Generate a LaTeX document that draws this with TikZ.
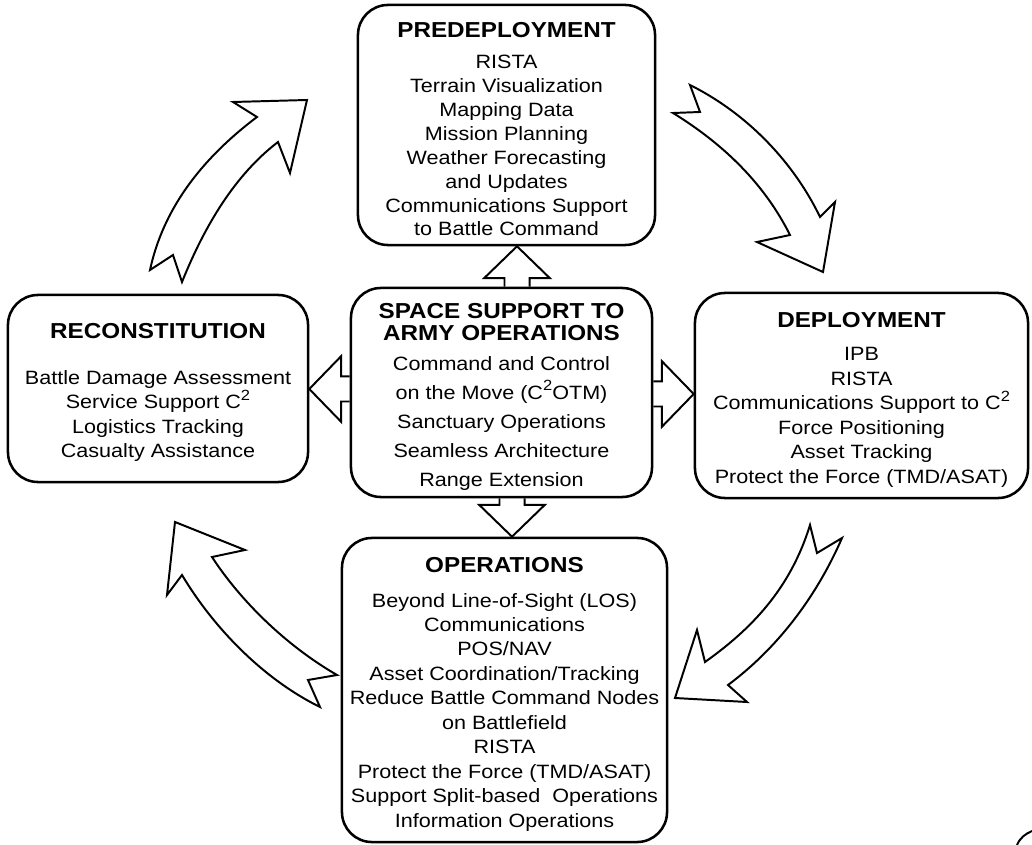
\documentclass[tikz,border=0pt]{standalone}
\usepackage{fontspec}
\setmainfont{Liberation Sans}[FakeStretch=1.12]
\usetikzlibrary{calc}

\newcommand{\boxtitle}[1]{{\rule{0pt}{17pt}\fontsize{15.4}{15.6}\selectfont\bfseries #1}}
\newcommand{\Csq}{C\raisebox{0.85ex}{\fontsize{10.5}{10.5}\selectfont 2}}
% block arrow from tail #1 to tip #2
\newcommand{\fatarrow}[2]{%
  \path (#2) coordinate (tp) ($(#2)!22.7pt!(#1)$) coordinate (bs);
  \draw[fat arrow] ($(#1)!8.9pt!90:(tp)$) -- ($(bs)!8.9pt!90:(tp)$)
    -- ($(bs)!23.4pt!90:(tp)$) -- (tp) -- ($(bs)!23.4pt!-90:(tp)$)
    -- ($(bs)!8.9pt!-90:(tp)$) -- ($(#1)!8.9pt!-90:(tp)$);}

\begin{document}
\begin{tikzpicture}[x=0.025cm, y=-0.025cm,
stage/.style = {draw, line width=1.8pt,
     rounded corners=0.75cm, inner sep=0pt,
     align=center, font=\fontsize{13.7}{17.4}\selectfont},
fat arrow/.style = {line width=1.4pt, line join=miter},
curl/.style = {draw, line width=1.4pt, line join=miter}]

\useasboundingbox (0,0) rectangle (1032,845);

\node[stage, minimum width=7.425cm, minimum height=6cm,
      font=\fontsize{13.7}{17}\selectfont] (pre) at (506.5,125)
  {\boxtitle{PREDEPLOYMENT}\\[5pt]
   RISTA\\ Terrain Visualization\\ Mapping Data\\ Mission Planning\\
   Weather Forecasting\\ and Updates\\ Communications Support\\ to Battle Command};
\node[stage, minimum width=7.525cm, minimum height=5.225cm,
      font=\fontsize{13.7}{20.6}\selectfont] (ctr) at (501.5,392.5)
  {\boxtitle{SPACE SUPPORT TO}\\[-5pt] \boxtitle{ARMY OPERATIONS}\\[1pt]
   Command and Control\\ on the Move (\Csq OTM)\\ Sanctuary Operations\\
   Seamless Architecture\\ Range Extension};
\node[stage, minimum width=7.5cm, minimum height=4.675cm] (rec) at (158,388.5)
  {\boxtitle{RECONSTITUTION}\\[15pt]
   Battle Damage Assessment\\ Service Support \Csq\\ Logistics Tracking\\
   Casualty Assistance};
\node[stage, minimum width=8.325cm, minimum height=5.125cm] (dep) at (861.5,395.5)
  {\boxtitle{DEPLOYMENT}\\[6pt]
   IPB\\ RISTA\\ Communications Support to \Csq\\ Force Positioning\\
   Asset Tracking\\ Protect the Force (TMD/ASAT)};
\node[stage, minimum width=8.125cm, minimum height=7.6cm] (ops) at (504.5,690)
  {\boxtitle{OPERATIONS}\\[7pt]
   Beyond Line-of-Sight (LOS)\\ Communications\\ POS/NAV\\
   Asset Coordination/Tracking\\ Reduce Battle Command Nodes\\ on Battlefield\\
   RISTA\\ Protect the Force (TMD/ASAT)\\ Support Split-based~ Operations\\
   Information Operations};

% straight block arrows out of the centre box
\fatarrow{$(ctr.north)+(15.5,0)$}{$(pre.south)+(10.5,0)$}
\fatarrow{$(ctr.south)+(10.5,0)$}{$(ops.north)+(7.5,0)$}
\fatarrow{$(ctr.west)+(0,-3.5)$}{$(rec.east)+(0,0.5)$}
\fatarrow{$(ctr.east)+(0,1.5)$}{$(dep.west)+(0,-1.5)$}

% curved arrows of the cycle
\draw[curl] (150,270) .. controls (163,210) and (200,160) .. (257,117)
  -- (233,102) -- (307,100) -- (290,173) -- (278,142)
  .. controls (235,175) and (205,225) .. (182,282) -- (173,255) -- cycle;
\draw[curl] (690,85) .. controls (750,115) and (795,165) .. (820,217)
  -- (835,202) -- (823,272) -- (757,242) -- (790,235)
  .. controls (765,185) and (725,145) .. (673,113) -- (700,112) -- cycle;
\draw[curl] (842,538) .. controls (815,600) and (775,650) .. (728,685)
  -- (747,702) -- (675,698) -- (697,630) -- (705,662)
  .. controls (750,630) and (790,590) .. (810,525) -- (817,553) -- cycle;
\draw[curl] (337,675) .. controls (285,645) and (240,600) .. (212,557)
  -- (245,550) -- (175,522) -- (167,595) -- (182,575)
  .. controls (215,630) and (265,680) .. (320,707) -- (308,680) -- cycle;

\draw[line width=1.4pt] (1017,845) .. controls (1020,838) and (1025,834) .. (1032,831);

\end{tikzpicture}
\end{document}
